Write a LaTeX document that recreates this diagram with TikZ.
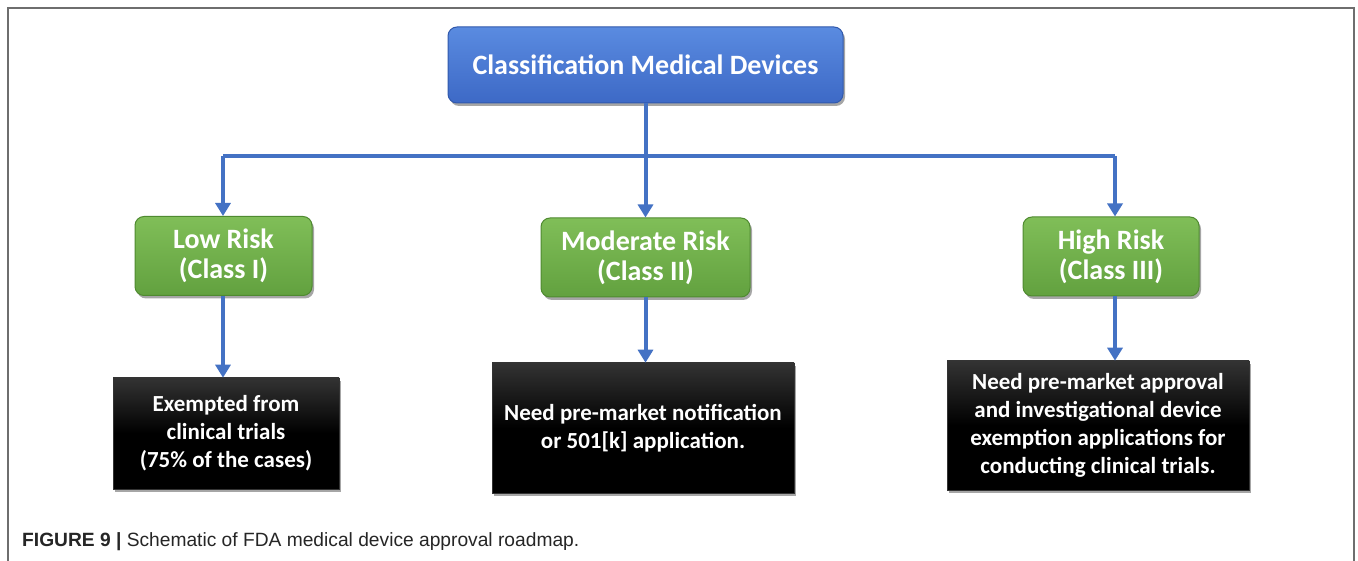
\documentclass[tikz,border=0pt]{standalone}
\usepackage{fontspec}
\setmainfont{Carlito}
\newfontfamily\capfont{Liberation Sans}
\usetikzlibrary{arrows.meta,shadows,calc}
\definecolor{arrblue}{HTML}{4472C4}
\definecolor{bluetop}{HTML}{5A8BE0}
\definecolor{bluebot}{HTML}{3D69C6}
\definecolor{blueline}{HTML}{3159AC}
\definecolor{greentop}{HTML}{80BE58}
\definecolor{greenbot}{HTML}{62A13F}
\definecolor{greenline}{HTML}{4F8A30}
\definecolor{blacktop}{HTML}{333333}
\definecolor{framegray}{HTML}{6E6E6E}
\tikzset{
  boxshadow/.style={drop shadow={shadow xshift=2pt,shadow yshift=-3pt,opacity=0.35,fill=black}},
  topbox/.style={boxshadow,rounded corners=9pt,top color=bluetop,bottom color=bluebot,draw=blueline,line width=1pt,
    minimum width=395pt,minimum height=76pt,text=white,font=\bfseries\fontsize{28}{30}\selectfont,inner sep=0pt},
  riskbox/.style={boxshadow,rounded corners=9pt,top color=greentop,bottom color=greenbot,draw=greenline,line width=1pt,
    minimum height=79pt,text=white,font=\bfseries\fontsize{28}{30}\selectfont,align=center,inner sep=0pt},
  notebox/.style={boxshadow,top color=blacktop,bottom color=black,middle color=black,draw=black!80,line width=0.6pt,
    text=white,font=\bfseries\fontsize{23}{28}\selectfont,align=center,inner sep=0pt},
  conn/.style={draw=arrblue,line width=4pt},
  arr/.style={conn,-{Triangle[width=15pt,length=13pt]}}
}
\begin{document}
\begin{tikzpicture}[x=1pt,y=-1pt]
\useasboundingbox (0,0) rectangle (1358,561);
\fill[white] (0,0) rectangle (1358,561);
\draw[framegray,line width=1.5pt] (8,561) -- (8,8) -- (1354,8) -- (1354,561);

\node[topbox] (top) at (645.5,65) {Classification Medical Devices};

\node[riskbox,minimum width=177pt] (low) at (223.5,256) {Low Risk\\(Class I)};
\node[riskbox,minimum width=209pt] (mod) at (645.5,257.5) {Moderate Risk\\(Class II)};
\node[riskbox,minimum width=176pt] (high) at (1111,256.5) {High Risk\\(Class III)};

\node[notebox,minimum width=226pt,minimum height=111pt] (lb) at (226,433.5) {Exempted from\\clinical trials\\(75\% of the cases)};
\node[notebox,minimum width=302pt,minimum height=130pt] (mb) at (643,428) {Need pre-market notification\\or 501[k] application.};
\node[notebox,minimum width=302pt,minimum height=129pt] (rb) at (1098,425.5) {Need pre-market approval\\and investigational device\\exemption applications for\\conducting clinical trials.};

\coordinate (hub) at (645.5,156);
\coordinate (lcorner) at (223,156);
\coordinate (rcorner) at (1115,156);

\draw[arr] (top.south) -- (mod.north);
\draw[conn] (lcorner) -- (rcorner);
\draw[arr] (lcorner) -- (lcorner |- low.north);
\draw[arr] (rcorner) -- (rcorner |- high.north);
\draw[arr] (low.south -| lcorner) -- (lcorner |- lb.north);
\draw[arr] (mod.south) -- (mod.south |- mb.north);
\draw[arr] (rcorner |- high.south) -- (rcorner |- rb.north);

\node[anchor=base west,inner sep=0pt,font=\capfont\fontsize{19.2}{21}\selectfont,text=black!85] (cap) at (22,546)
  {{\bfseries FIGURE 9 |} Schematic of FDA medical device approval roadmap.};
\end{tikzpicture}
\end{document}
